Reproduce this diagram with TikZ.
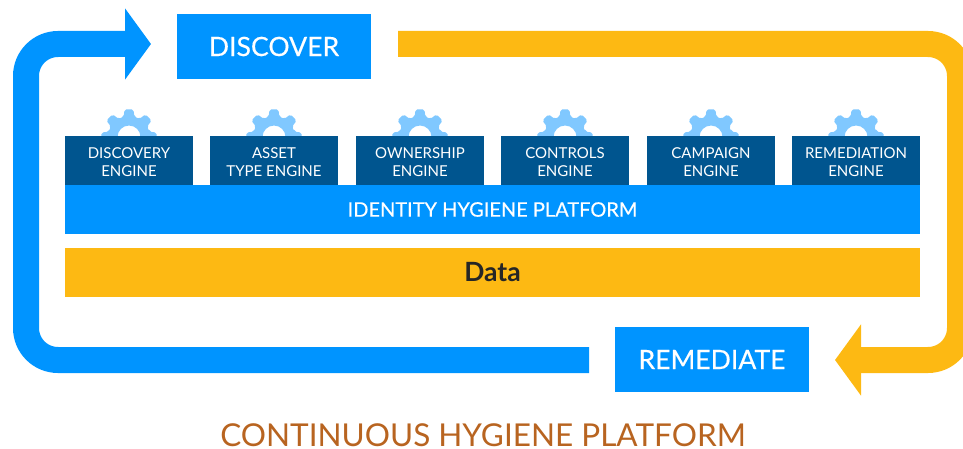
\documentclass[tikz,border=0pt]{standalone}
\usepackage{fontspec}
\setmainfont{Lato}
\newfontfamily\fakemed[FakeBold=0.35]{Lato}
\usetikzlibrary{arrows.meta}
\definecolor{mainblue}{HTML}{0094FF}
\definecolor{darkblue}{HTML}{00558F}
\definecolor{ambercol}{HTML}{FDB913}
\definecolor{gearblue}{HTML}{80C8FF}
\definecolor{titlecol}{HTML}{B86420}
\newcommand{\lowerline}{\rule{0pt}{14pt}}
\tikzset{
  every node/.style={inner sep=0pt,outer sep=0pt},
  box/.style={fill=mainblue,minimum width=194pt,minimum height=65pt,text=white,font=\fakemed\fontsize{26.6}{28}\selectfont},
  enginebox/.style={fill=darkblue,minimum width=128pt,minimum height=49pt,text=white,align=center,font=\fontsize{15}{18.5}\selectfont},
  band/.style={fill=mainblue,minimum width=855pt,minimum height=49pt,text=white,font=\fakemed\fontsize{20}{22}\selectfont},
  flow/.style={line width=26pt,rounded corners=32pt,line cap=butt},
  flowtip/.style={-{Triangle[length=26pt,width=70pt]}},
  gearshape/.style={fill=gearblue,even odd rule,rounded corners=1.8pt}
}
\newcommand{\gearat}[1]{%
  \fill[gearshape,shift={(#1,137)}] (-15:21)
    \foreach \a in {0,45,...,315}{
      -- (\a-15:21) -- (\a-9:28) -- (\a+9:28) -- (\a+15:21)
    } -- cycle (0,0) circle[radius=11.5];
}
\begin{document}
\begin{tikzpicture}[x=1pt,y=-1pt]
\useasboundingbox (0,0) rectangle (963,449);
\clip (0,0) rectangle (963,449);
% gears, behind the engine boxes
\gearat{129}\gearat{274}\gearat{420}\gearat{565}\gearat{711}\gearat{856}
% boxes
\node[box] (disc) at (274,46.5) {DISCOVER};
\node[box] (rem) at (712,359.5) {REMEDIATE};
\node[enginebox] (e1) at (129,160.5) {\lowerline DISCOVERY\\ENGINE};
\node[enginebox] (e2) at (274,160.5) {\lowerline ASSET\\TYPE ENGINE};
\node[enginebox] (e3) at (420,160.5) {\lowerline OWNERSHIP\\ENGINE};
\node[enginebox] (e4) at (565,160.5) {\lowerline CONTROLS\\ENGINE};
\node[enginebox] (e5) at (711,160.5) {\lowerline CAMPAIGN\\ENGINE};
\node[enginebox] (e6) at (856,160.5) {\lowerline REMEDIATION\\ENGINE};
\node[band] (plat) at (492.5,209.5) {IDENTITY HYGIENE PLATFORM};
\node[band,fill=ambercol,text=black!85,font=\fontsize{26.5}{28}\selectfont\bfseries] (data) at (492.5,272.5) {Data};
\node[text=titlecol,font=\fontsize{31.5}{33}\selectfont] (title) at (483,435) {CONTINUOUS HYGIENE PLATFORM};
% connectors
\coordinate (bstart) at (589,360);
\coordinate (bend) at (151,44);
\coordinate (ystart) at (398,44);
\coordinate (yend) at (835,360);
\draw[flow,mainblue,flowtip] (bstart) -- (26,360) -- (26,44) -- (bend);
\draw[flow,ambercol,flowtip] (ystart) -- (960,44) -- (960,360) -- (yend);
\end{tikzpicture}
\end{document}
